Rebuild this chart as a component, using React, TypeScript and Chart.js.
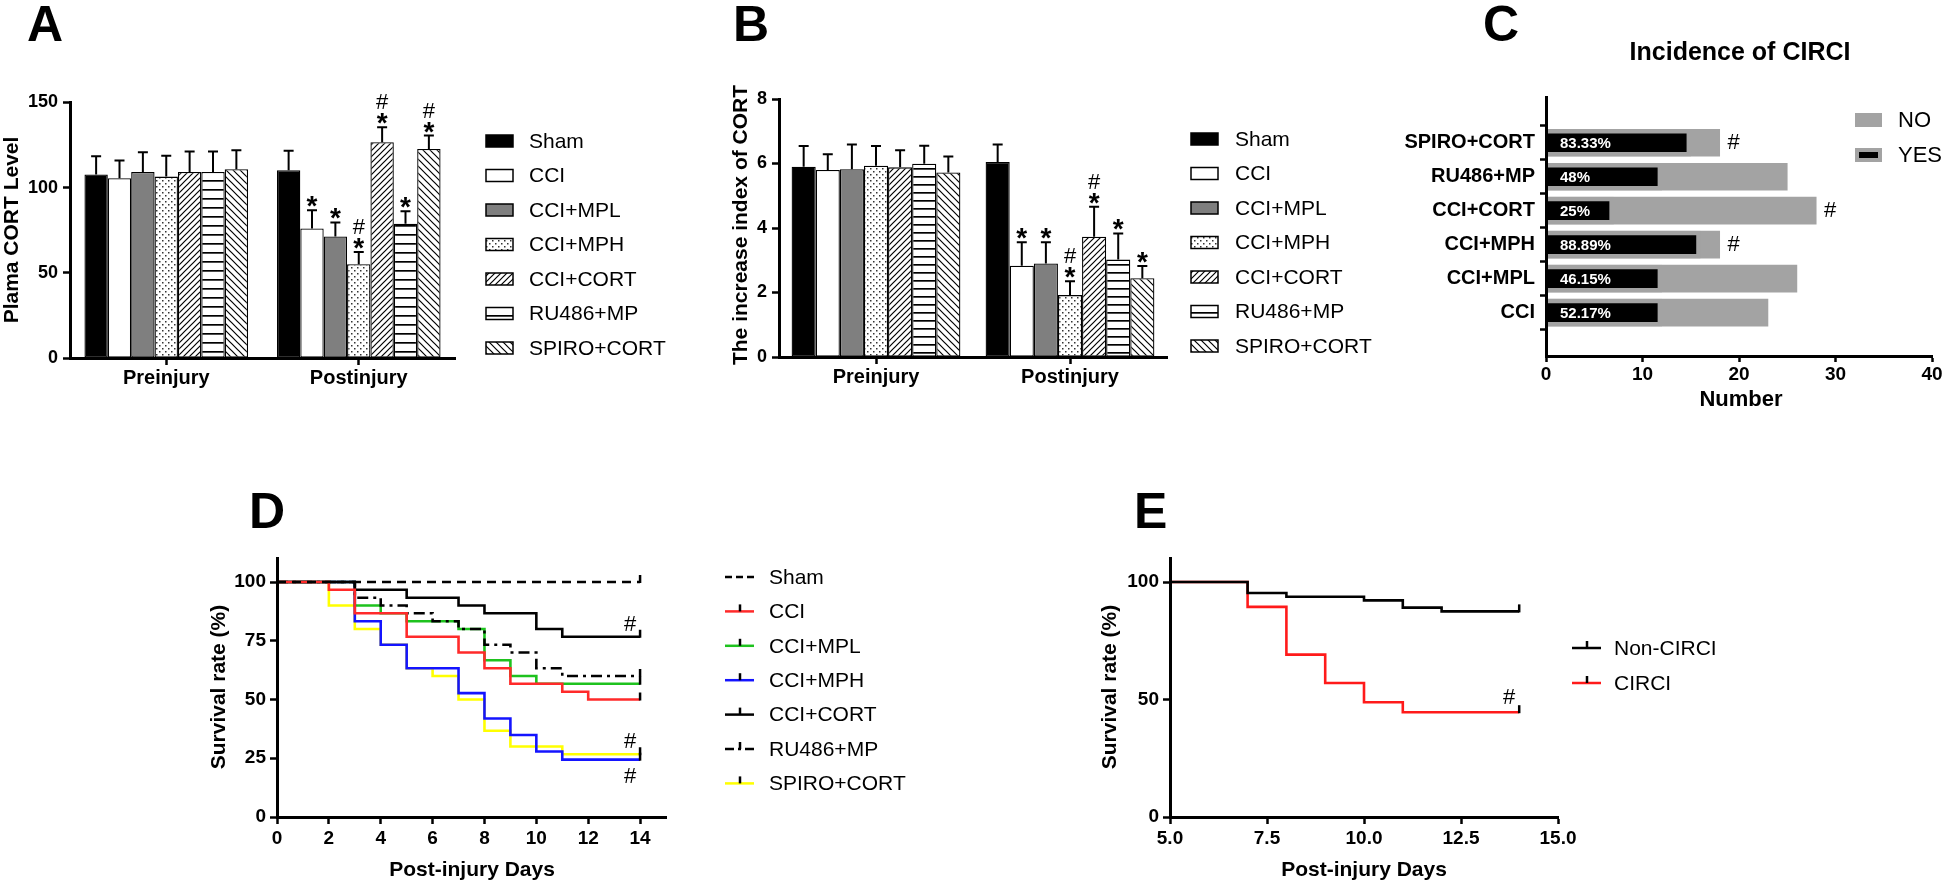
import React, { useEffect, useRef } from 'react';
import { Chart, registerables } from 'chart.js';

Chart.register(...registerables);

const FONT = "'Liberation Sans', Arial, Helvetica, sans-serif";

// ---------------- Panels A & B (grouped bars) ----------------
const groups = ['Sham', 'CCI', 'CCI+MPL', 'CCI+MPH', 'CCI+CORT', 'RU486+MP', 'SPIRO+CORT'];
const timepoints = ['Preinjury', 'Postinjury'];

const aPre = [107.8, 105.5, 109.2, 106.5, 109.2, 109.2, 110.8];
const aPreErr = [10.6, 10.5, 11.6, 12.3, 12.0, 12.0, 11.2];
const aPost = [110.2, 76.0, 71.4, 55.1, 126.7, 78.8, 122.7];
const aPostErr = [11.4, 10.7, 8.2, 7.1, 8.8, 7.3, 7.9];
const aPostMarks = ['', '*', '*', '#*', '#*', '*', '#*'];

const bPre = [5.9, 5.8, 5.82, 5.93, 5.88, 5.99, 5.72];
const bPreErr = [0.64, 0.49, 0.77, 0.61, 0.53, 0.56, 0.5];
const bPost = [6.05, 2.83, 2.9, 1.92, 3.73, 3.02, 2.44];
const bPostErr = [0.54, 0.73, 0.66, 0.43, 0.93, 0.81, 0.38];
const bPostMarks = ['', '*', '*', '#*', '#*', '*', '*'];

const groupFills = ['black', 'white', 'gray', 'dots', 'fwd', 'horiz', 'back'];

// ---------------- Panel C (incidence) ----------------
const cCats = ['CCI', 'CCI+MPL', 'CCI+MPH', 'CCI+CORT', 'RU486+MP', 'SPIRO+CORT'];
const cTotal = [23, 26, 18, 28, 25, 18];
const cYes = [12, 12, 16, 7, 12, 15];
const cPct = ['52.17%', '46.15%', '88.89%', '25%', '48%', '83.33%'];
const cHash = ['', '', '#', '#', '', '#'];

// ---------------- Panel D (survival by group) ----------------
const dNames = ['Sham', 'CCI', 'CCI+MPL', 'CCI+MPH', 'CCI+CORT', 'RU486+MP', 'SPIRO+CORT'];
const dShamT = [0, 14];
const dShamS = [100, 100];
const dCciT = [0, 2, 3, 5, 7, 8, 9, 11, 12, 14];
const dCciS = [100, 96.7, 86.7, 76.7, 70, 63.3, 56.7, 53.3, 50, 50];
const dMplT = [0, 3, 4, 5, 7, 8, 9, 10, 14];
const dMplS = [100, 90, 86.7, 83.3, 80, 66.7, 60, 56.7, 56.7];
const dMphT = [0, 3, 4, 5, 7, 8, 9, 10, 11, 14];
const dMphS = [100, 83.3, 73.3, 63.3, 52.7, 41.9, 34.9, 27.9, 24.4, 24.4];
const dCortT = [0, 3, 5, 7, 8, 10, 11, 14];
const dCortS = [100, 96.7, 93.3, 90, 86.7, 80, 76.7, 76.7];
const dRuT = [0, 3, 4, 5, 6, 7, 8, 9, 10, 11, 14];
const dRuS = [100, 93.3, 90, 86.7, 83.3, 80, 73.3, 70, 63.3, 60, 60];
const dSpiroT = [0, 2, 3, 4, 5, 6, 7, 8, 9, 11, 14];
const dSpiroS = [100, 90, 80, 73.3, 63.3, 60, 50, 36.7, 30, 26.7, 26.7];
const dTimes = [dShamT, dCciT, dMplT, dMphT, dCortT, dRuT, dSpiroT];
const dSurv = [dShamS, dCciS, dMplS, dMphS, dCortS, dRuS, dSpiroS];
const dXTicks = [0, 2, 4, 6, 8, 10, 12, 14];
const dYTicks = [0, 25, 50, 75, 100];

// ---------------- Panel E (survival by CIRCI) ----------------
const eNames = ['Non-CIRCI', 'CIRCI'];
const eNonT = [0, 7, 8, 10, 11, 12, 14];
const eNonS = [100, 95.3, 93.7, 92.2, 89.1, 87.5, 87.5];
const eCirciT = [0, 7, 8, 9, 10, 11, 14];
const eCirciS = [100, 89.4, 69.1, 57, 48.8, 44.6, 44.6];
const eXTicks = [5, 7.5, 10, 12.5, 15];
const eYTicks = [0, 50, 100];

// ---------------- styles ----------------
const dColors = ['#000000', '#ff2a2a', '#1ec21e', '#1414ff', '#000000', '#000000', '#ffff00'];
const dDash = [[9, 6], [], [], [], [], [11, 5, 3, 5], []];
const dOrder = [0, 1, 5, 4, 2, 3, 6];
const eColors = ['#000000', '#ff1a1a'];
const GRAY = '#a3a3a3';

function makeFill(kind: string, spacing: number): any {
  if (kind === 'black') return '#000000';
  if (kind === 'white') return '#ffffff';
  if (kind === 'gray') return '#7f7f7f';
  const c = document.createElement('canvas');
  const g = c.getContext('2d')!;
  if (kind === 'dots') {
    c.width = 6; c.height = 6;
    g.fillStyle = '#fff'; g.fillRect(0, 0, 6, 6);
    g.fillStyle = '#333'; g.fillRect(0, 0, 1.5, 1.5); g.fillRect(3, 3, 1.5, 1.5);
  } else if (kind === 'horiz') {
    c.width = 4; c.height = spacing;
    g.fillStyle = '#fff'; g.fillRect(0, 0, 4, spacing);
    g.fillStyle = '#000'; g.fillRect(0, 0, 4, 1.7);
  } else {
    const s = kind === 'fwd' ? 6 : 7;
    c.width = s; c.height = s;
    g.fillStyle = '#fff'; g.fillRect(0, 0, s, s);
    g.strokeStyle = '#000'; g.lineWidth = 1.2;
    g.beginPath();
    if (kind === 'fwd') {
      g.moveTo(-1, s + 1); g.lineTo(s + 1, -1);
      g.moveTo(-1, 1); g.lineTo(1, -1);
      g.moveTo(s - 1, s + 1); g.lineTo(s + 1, s - 1);
    } else {
      g.moveTo(-1, -1); g.lineTo(s + 1, s + 1);
      g.moveTo(s - 1, -1); g.lineTo(s + 1, 1);
      g.moveTo(-1, s - 1); g.lineTo(1, s + 1);
    }
    g.stroke();
  }
  return g.createPattern(c, 'repeat');
}

function txt(ctx: CanvasRenderingContext2D, s: string, x: number, y: number, font: string,
  align: CanvasTextAlign = 'left', baseline: CanvasTextBaseline = 'middle', color = '#000') {
  ctx.save();
  ctx.font = font; ctx.fillStyle = color; ctx.textAlign = align; ctx.textBaseline = baseline;
  ctx.fillText(s, x, y);
  ctx.restore();
}
function vtxt(ctx: CanvasRenderingContext2D, s: string, x: number, y: number, font: string) {
  ctx.save();
  ctx.translate(x, y); ctx.rotate(-Math.PI / 2);
  ctx.font = font; ctx.fillStyle = '#000'; ctx.textAlign = 'center'; ctx.textBaseline = 'middle';
  ctx.fillText(s, 0, 0);
  ctx.restore();
}

type Box = { left: number; top: number; right: number; bottom: number; yW: number; xH: number };
const W = 1946, H = 884;
function pad(b: Box) {
  return { left: b.left - b.yW, top: b.top, right: W - b.right, bottom: H - b.bottom - b.xH };
}
function axis(size: number, tickLen: number, padding: number, extra: any = {}) {
  return {
    border: { display: true, color: '#000', width: 3, z: 1 },
    grid: { display: true, drawOnChartArea: false, drawTicks: true, tickLength: tickLen, tickWidth: 2.5, tickColor: '#000', color: '#000', ...(extra.grid || {}) },
    ticks: { color: '#000', font: { family: FONT, size, weight: 'bold' }, padding, maxRotation: 0, autoSkip: false, ...(extra.ticks || {}) },
  };
}

function makeBarChart(canvas: HTMLCanvasElement, p: any) {
  const fills = groupFills.map((k) => makeFill(k, p.hSpacing));
  const b: Box = p.box;
  const plugin = {
    id: 'decor' + p.letter,
    afterDatasetsDraw(chart: any) {
      const ctx = chart.ctx; const ys = chart.scales.y;
      chart.data.datasets.forEach((ds: any, di: number) => {
        const meta = chart.getDatasetMeta(di);
        meta.data.forEach((el: any, ti: number) => {
          const v = ds.data[ti];
          const e = ti === 0 ? p.preErr[di] : p.postErr[di];
          const x = el.x; const yTop = ys.getPixelForValue(v + e);
          ctx.save(); ctx.strokeStyle = '#000'; ctx.lineWidth = 2;
          ctx.beginPath(); ctx.moveTo(x, el.y); ctx.lineTo(x, yTop);
          ctx.moveTo(x - 5, yTop); ctx.lineTo(x + 5, yTop); ctx.stroke(); ctx.restore();
          if (ti === 1) {
            const m = p.marks[di];
            if (m.includes('*')) txt(ctx, '*', x, yTop + 5, `bold 28px ${FONT}`, 'center', 'alphabetic');
            if (m.includes('#')) txt(ctx, '#', x, yTop - 18, `22px ${FONT}`, 'center', 'alphabetic');
          }
        });
      });
    },
    afterDraw(chart: any) {
      const ctx = chart.ctx;
      groups.forEach((g, i) => {
        const y = p.legY0 + i * 34.5;
        ctx.save();
        ctx.fillStyle = fills[i]; ctx.fillRect(p.legBoxX, y - 6, 27, 12);
        ctx.strokeStyle = '#000'; ctx.lineWidth = 1.5; ctx.strokeRect(p.legBoxX, y - 6, 27, 12);
        ctx.restore();
        txt(ctx, g, p.legTextX, y + 1, `21px ${FONT}`);
      });
      vtxt(ctx, p.title, p.titleX, p.titleY, `bold 21px ${FONT}`);
      txt(ctx, p.letter, p.letterX, 41, `bold 50px ${FONT}`, 'left', 'alphabetic');
    },
  };
  return new Chart(canvas, {
    type: 'bar',
    data: {
      labels: timepoints,
      datasets: groups.map((g, i) => ({
        label: g,
        data: [p.pre[i], p.post[i]],
        backgroundColor: fills[i],
        borderColor: '#000',
        borderWidth: 1.3,
        borderSkipped: false,
        categoryPercentage: p.catPct,
        barPercentage: 1,
      })),
    },
    options: {
      responsive: false, animation: false, devicePixelRatio: 1,
      layout: { padding: pad(b) },
      plugins: { legend: { display: false }, tooltip: { enabled: false } },
      scales: {
        x: { type: 'category', offset: true, ...axis(20, 7, 1, { grid: { offset: false } }), afterFit: (s: any) => { s.height = b.xH; } },
        y: { type: 'linear', min: 0, max: p.yMax, ...axis(18, 7, 5, { ticks: { stepSize: p.yStep } }), afterFit: (s: any) => { s.width = b.yW; } },
      },
    },
    plugins: [plugin],
  } as any);
}

function makeC(canvas: HTMLCanvasElement) {
  const b: Box = { left: 1546, top: 97, right: 1932, bottom: 356, yW: 146, xH: 40 };
  const plugin = {
    id: 'decorC',
    afterDraw(chart: any) {
      const ctx = chart.ctx; const xs = chart.scales.x; const ys = chart.scales.y;
      cCats.forEach((c, i) => {
        const y = ys.getPixelForValue(i);
        txt(ctx, cPct[i], xs.getPixelForValue(0) + 14, y + 1, `bold 15px ${FONT}`, 'left', 'middle', '#fff');
        if (cHash[i]) txt(ctx, cHash[i], xs.getPixelForValue(cTotal[i]) + 14, y, `22px ${FONT}`, 'center', 'middle');
      });
      // legend
      ctx.save();
      ctx.fillStyle = GRAY; ctx.fillRect(1855, 113, 27, 14);
      ctx.fillRect(1855, 148, 27, 14);
      ctx.fillStyle = '#000'; ctx.fillRect(1859, 152, 19, 6);
      ctx.restore();
      txt(ctx, 'NO', 1898, 121, `22px ${FONT}`);
      txt(ctx, 'YES', 1898, 156, `22px ${FONT}`);
      txt(ctx, 'Incidence of CIRCI', 1740, 53, `bold 25px ${FONT}`, 'center', 'middle');
      txt(ctx, 'Number', 1741, 400, `bold 22px ${FONT}`, 'center', 'middle');
      txt(ctx, 'C', 1483, 41, `bold 50px ${FONT}`, 'left', 'alphabetic');
    },
  };
  return new Chart(canvas, {
    type: 'bar',
    data: {
      datasets: [
        {
          label: 'YES', data: cYes.map((v, i) => ({ x: v, y: i })),
          backgroundColor: '#000', borderColor: GRAY, borderWidth: 4.5, borderSkipped: 'start',
          barThickness: 27, grouped: false, order: 0,
        },
        {
          label: 'NO', data: cTotal.map((v, i) => ({ x: v, y: i })),
          backgroundColor: GRAY, borderWidth: 0, barThickness: 27, grouped: false, order: 1,
        },
      ],
    },
    options: {
      indexAxis: 'y',
      responsive: false, animation: false, devicePixelRatio: 1,
      layout: { padding: pad(b) },
      plugins: { legend: { display: false }, tooltip: { enabled: false } },
      scales: {
        x: { type: 'linear', min: 0, max: 40, ...axis(19, 6, 1, { ticks: { stepSize: 10 } }), afterFit: (s: any) => { s.height = b.xH; } },
        y: {
          type: 'linear', min: -0.64, max: 5.71,
          ...axis(20, 6, 5, { ticks: { callback: (v: any) => cCats[v] ?? '' } }),
          afterBuildTicks: (s: any) => { s.ticks = cCats.map((_, i) => ({ value: i })); },
          afterFit: (s: any) => { s.width = b.yW; },
        },
      },
    },
    plugins: [plugin],
  } as any);
}

function makeSurvival(canvas: HTMLCanvasElement, p: any) {
  const b: Box = p.box;
  const plugin = {
    id: 'decor' + p.letter,
    afterDraw(chart: any) {
      const ctx = chart.ctx;
      // end ticks
      chart.data.datasets.forEach((ds: any, di: number) => {
        const meta = chart.getDatasetMeta(di);
        const el = meta.data[meta.data.length - 1];
        ctx.save(); ctx.strokeStyle = '#000'; ctx.lineWidth = 2.5;
        ctx.beginPath(); ctx.moveTo(el.x, el.y - 7); ctx.lineTo(el.x, el.y + 1); ctx.stroke(); ctx.restore();
      });
      // hash marks relative to curve ends
      p.hashes.forEach((h: any) => {
        const meta = chart.getDatasetMeta(h.ds);
        const el = meta.data[meta.data.length - 1];
        txt(ctx, '#', el.x - 10, el.y + h.dy, `22px ${FONT}`, 'center', 'middle');
      });
      // legend
      p.names.forEach((n: string, i: number) => {
        const y = p.legY0 + i * p.legStep;
        ctx.save();
        ctx.strokeStyle = p.colors[i]; ctx.lineWidth = 2.5;
        ctx.setLineDash(p.legDash[i]);
        ctx.beginPath(); ctx.moveTo(p.legX, y); ctx.lineTo(p.legX + 29, y); ctx.stroke();
        ctx.setLineDash([]);
        if (p.legTick[i]) {
          ctx.strokeStyle = '#000'; ctx.lineWidth = 2.5;
          ctx.beginPath(); ctx.moveTo(p.legX + 15, y - 7); ctx.lineTo(p.legX + 15, y); ctx.stroke();
        }
        ctx.restore();
        txt(ctx, n, p.legTextX, y + 1, `21px ${FONT}`);
      });
      vtxt(ctx, 'Survival rate (%)', p.yTitleX, 687, `bold 21px ${FONT}`);
      txt(ctx, 'Post-injury Days', p.xTitleX, 870, `bold 21px ${FONT}`, 'center', 'middle');
      txt(ctx, p.letter, p.letterX, 528, `bold 50px ${FONT}`, 'left', 'alphabetic');
    },
  };
  return new Chart(canvas, {
    type: 'line',
    data: {
      datasets: p.times.map((t: number[], i: number) => ({
        label: p.names[i],
        data: t.map((x, k) => ({ x, y: p.surv[i][k] })),
        borderColor: p.colors[i],
        borderDash: p.dash[i],
        borderWidth: 2.6,
        pointRadius: 0,
        stepped: 'before',
        fill: false,
        order: p.order[i],
      })),
    },
    options: {
      responsive: false, animation: false, devicePixelRatio: 1,
      layout: { padding: pad(b) },
      plugins: { legend: { display: false }, tooltip: { enabled: false } },
      scales: {
        x: {
          type: 'linear', min: p.xMin, max: 15,
          ...axis(19, 7, 3, { ticks: { callback: p.xFmt } }),
          afterBuildTicks: (s: any) => { s.ticks = p.xTicks.map((v: number) => ({ value: v })); },
          afterFit: (s: any) => { s.height = b.xH; },
        },
        y: {
          type: 'linear', min: 0, max: 110,
          ...axis(19, 7, 4),
          afterBuildTicks: (s: any) => { s.ticks = p.yTicks.map((v: number) => ({ value: v })); },
          afterFit: (s: any) => { s.width = b.yW; },
        },
      },
    },
    plugins: [plugin],
  } as any);
}

export default function App() {
  const rA = useRef<HTMLCanvasElement>(null);
  const rB = useRef<HTMLCanvasElement>(null);
  const rC = useRef<HTMLCanvasElement>(null);
  const rD = useRef<HTMLCanvasElement>(null);
  const rE = useRef<HTMLCanvasElement>(null);

  useEffect(() => {
    Chart.defaults.color = '#000';
    Chart.defaults.font.family = FONT;
    const charts: Chart[] = [];
    charts.push(makeBarChart(rA.current!, {
      box: { left: 70, top: 102.5, right: 455, bottom: 358, yW: 70, xH: 40 },
      yMax: 150, yStep: 50, pre: aPre, preErr: aPreErr, post: aPost, postErr: aPostErr, marks: aPostMarks,
      catPct: 0.85, hSpacing: 9, legY0: 141, legBoxX: 486, legTextX: 529,
      title: 'Plama CORT Level', titleX: 12, titleY: 230, letter: 'A', letterX: 27,
    }));
    charts.push(makeBarChart(rB.current!, {
      box: { left: 779, top: 99, right: 1167, bottom: 357, yW: 79, xH: 40 },
      yMax: 8, yStep: 2, pre: bPre, preErr: bPreErr, post: bPost, postErr: bPostErr, marks: bPostMarks,
      catPct: 0.87, hSpacing: 8, legY0: 139, legBoxX: 1191, legTextX: 1235,
      title: 'The increase index of CORT', titleX: 741, titleY: 225, letter: 'B', letterX: 733,
    }));
    charts.push(makeC(rC.current!));
    charts.push(makeSurvival(rD.current!, {
      box: { left: 277, top: 558.5, right: 666, bottom: 817, yW: 77, xH: 40 },
      times: dTimes, surv: dSurv, names: dNames, colors: dColors, dash: dDash, order: dOrder,
      xMin: 0, xTicks: dXTicks, yTicks: dYTicks, xFmt: (v: any) => String(v),
      hashes: [{ ds: 4, dy: -12 }, { ds: 6, dy: -12 }, { ds: 3, dy: 17 }],
      legY0: 577, legStep: 34.4, legX: 725, legTextX: 769,
      legDash: [[7, 4], [], [], [], [], [9, 4, 3, 4], []],
      legTick: [false, true, true, true, true, true, true],
      yTitleX: 219, xTitleX: 472, letter: 'D', letterX: 249,
    }));
    charts.push(makeSurvival(rE.current!, {
      box: { left: 1170, top: 558.5, right: 1558, bottom: 817, yW: 70, xH: 40 },
      times: [eNonT, eCirciT], surv: [eNonS, eCirciS], names: eNames, colors: eColors, dash: [[], []], order: [0, 1],
      xMin: 5, xTicks: eXTicks, yTicks: eYTicks, xFmt: (v: any) => Number(v).toFixed(1),
      hashes: [{ ds: 1, dy: -14 }],
      legY0: 648, legStep: 35, legX: 1572, legTextX: 1614,
      legDash: [[], []], legTick: [true, true],
      yTitleX: 1110, xTitleX: 1364, letter: 'E', letterX: 1134,
    }));
    return () => { charts.forEach((c) => c.destroy()); };
  }, []);

  const cs: React.CSSProperties = { position: 'absolute', left: 0, top: 0, width: W, height: H };
  return (
    <div style={{ position: 'absolute', left: 0, top: 0, width: W, height: H, background: '#fff', overflow: 'hidden' }}>
      <canvas ref={rA} width={W} height={H} style={cs} />
      <canvas ref={rB} width={W} height={H} style={cs} />
      <canvas ref={rC} width={W} height={H} style={cs} />
      <canvas ref={rD} width={W} height={H} style={cs} />
      <canvas ref={rE} width={W} height={H} style={cs} />
    </div>
  );
}
